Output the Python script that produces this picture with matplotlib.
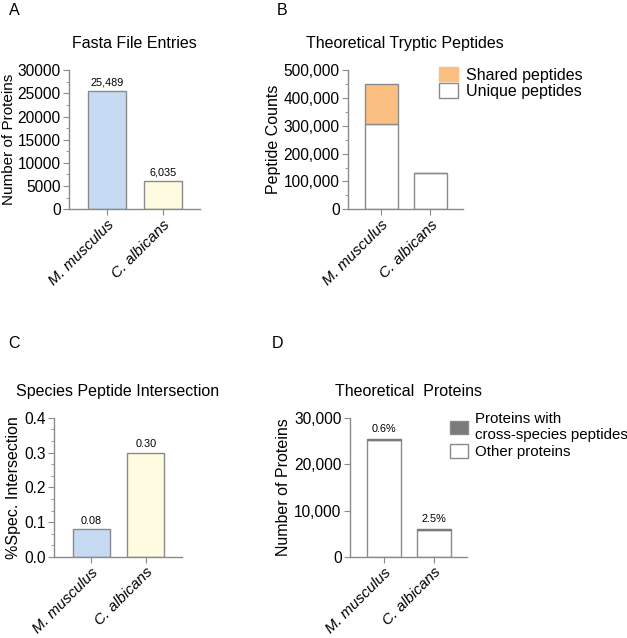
import matplotlib.pyplot as plt
from matplotlib.ticker import MultipleLocator, FuncFormatter, AutoMinorLocator
from matplotlib.patches import Patch

plt.rcParams['font.family'] = ['Liberation Sans', 'DejaVu Sans']

species = ["M. musculus", "C. albicans"]

# A: fasta entries
fasta_entries = [25489, 6035]
fasta_labels = ["25,489", "6,035"]

# B: theoretical tryptic peptides
unique_peptides = [305000, 131000]
shared_peptides = [147000, 0]

# C: species peptide intersection (%)
intersection = [0.08, 0.30]
intersection_labels = ["0.08", "0.30"]

# D: theoretical proteins
cross_pct = [0.6, 2.5]
cross_labels = ["0.6%", "2.5%"]
cross_proteins = [round(t * p / 100) for t, p in zip(fasta_entries, cross_pct)]
other_proteins = [t - c for t, c in zip(fasta_entries, cross_proteins)]

blue = "#c6dbf3"
yellow = "#fffbe1"
orange = "#fbbf82"
dgray = "#7a7a7a"
edge = "#8a8a8a"

fig = plt.figure(figsize=(6.27, 6.38), dpi=100)


def style(ax, ylim, major, minor=None, fmt=None):
    ax.spines["top"].set_visible(False)
    ax.spines["right"].set_visible(False)
    for s in ("left", "bottom"):
        ax.spines[s].set_color(edge)
        ax.spines[s].set_linewidth(1)
    ax.set_xlim(-0.68, 1.66)
    ax.set_ylim(*ylim)
    ax.yaxis.set_major_locator(MultipleLocator(major))
    if minor:
        ax.yaxis.set_minor_locator(AutoMinorLocator(minor))
    if fmt:
        ax.yaxis.set_major_formatter(FuncFormatter(fmt))
    ax.tick_params(axis="both", which="major", length=4, color=edge, labelsize=11.2, pad=2)
    ax.tick_params(axis="y", which="minor", length=2.5, color=edge)
    ax.set_xticks(range(len(species)))
    ax.set_xticklabels(species, rotation=45, ha="right", rotation_mode="anchor",
                       style="italic", fontsize=11)


comma = lambda v, p: f"{int(v):,}"
x = list(range(len(species)))
w = 0.68

# A
axA = fig.add_axes([0.110, 0.672, 0.209, 0.218])
axA.bar(x, fasta_entries, width=w, color=[blue, yellow], edgecolor=edge, linewidth=1)
for i, v in enumerate(fasta_entries):
    axA.text(i, v + 800, fasta_labels[i], ha="center", va="bottom", fontsize=7.8)
style(axA, (0, 30000), 5000, 2)
axA.set_ylabel("Number of Proteins", fontsize=11, labelpad=1)
axA.set_title("Fasta File Entries", fontsize=11.5, pad=16)

# B
axB = fig.add_axes([0.555, 0.672, 0.183, 0.218])
axB.bar(x, unique_peptides, width=w, color="white", edgecolor=edge, linewidth=1)
axB.bar(x, shared_peptides, width=w, bottom=unique_peptides, color=orange,
        edgecolor=edge, linewidth=1)
style(axB, (0, 500000), 100000, 2, comma)
axB.set_ylabel("Peptide Counts", fontsize=11.5, labelpad=2)
axB.set_title("Theoretical Tryptic Peptides", fontsize=11.5, pad=16)
fig.legend(handles=[Patch(facecolor=orange, edgecolor=orange, label="Shared peptides"),
                    Patch(facecolor="white", edgecolor=edge, label="Unique peptides")],
           loc="upper left", bbox_to_anchor=(0.690, 0.905), frameon=False,
           fontsize=11.5, handlelength=1.2, handleheight=1.0, handletextpad=0.5,
           labelspacing=0.05, borderaxespad=0)

# C
axC = fig.add_axes([0.086, 0.127, 0.204, 0.218])
axC.bar(x, intersection, width=w, color=[blue, yellow], edgecolor=edge, linewidth=1)
for i, v in enumerate(intersection):
    axC.text(i, v + 0.01, intersection_labels[i], ha="center", va="bottom", fontsize=7.8)
style(axC, (0, 0.4), 0.1, 3, lambda v, p: f"{v:.1f}")
axC.set_ylabel("%Spec. Intersection", fontsize=11.5, labelpad=2)
axC.set_title("Species Peptide Intersection", fontsize=11.5, pad=16)

# D
axD = fig.add_axes([0.558, 0.127, 0.187, 0.218])
axD.bar(x, other_proteins, width=w, color="white", edgecolor=edge, linewidth=1)
axD.bar(x, cross_proteins, width=w, bottom=other_proteins, color=dgray,
        edgecolor=dgray, linewidth=1)
for i, v in enumerate(fasta_entries):
    axD.text(i, v + 1000, cross_labels[i], ha="center", va="bottom", fontsize=7.8)
style(axD, (0, 30000), 10000, None, comma)
axD.set_ylabel("Number of Proteins", fontsize=11.5, labelpad=2)
axD.set_title("Theoretical  Proteins", fontsize=11.5, pad=16)
fig.legend(handles=[Patch(facecolor=dgray, edgecolor=edge,
                          label="Proteins with\ncross-species peptides"),
                    Patch(facecolor="white", edgecolor=edge, label="Other proteins")],
           loc="upper left", bbox_to_anchor=(0.708, 0.364), frameon=False,
           fontsize=10.8, handlelength=1.2, handleheight=1.0, handletextpad=0.45,
           labelspacing=0.15, borderaxespad=0)

# panel letters
for lab, xx, yy in [("A", 0.022, 0.984), ("B", 0.450, 0.984),
                    ("C", 0.022, 0.461), ("D", 0.443, 0.461)]:
    fig.text(xx, yy, lab, fontsize=11.5, ha="center", va="center")

fig.savefig("out.png", dpi=100)
